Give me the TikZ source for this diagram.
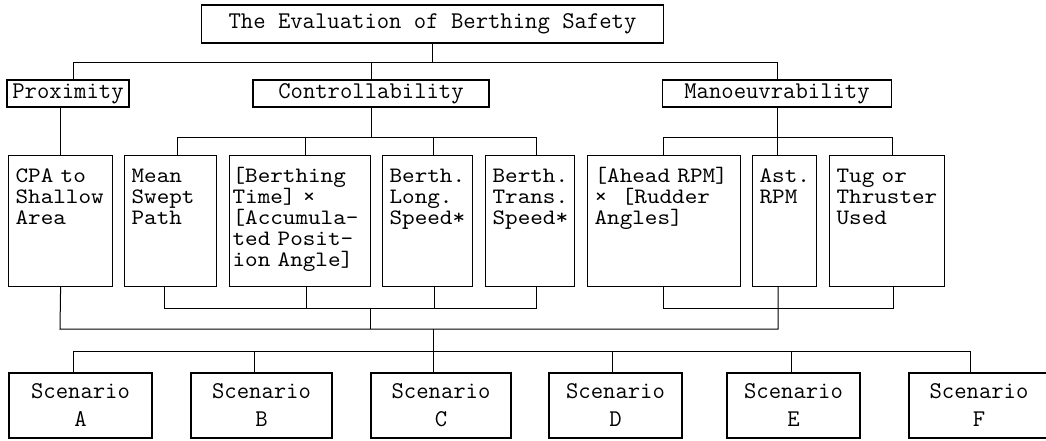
\documentclass[tikz,border=0pt]{standalone}
\usepackage{fontspec}
\usepackage{tikz}
\newfontfamily\critfont{lmmono10-regular.otf}[FakeStretch=1.09]

\begin{document}
\begin{tikzpicture}[
    x=1pt, y=-1pt,
    every node/.style={font=\ttfamily\fontsize{24}{20.5}\selectfont},
    head/.style={draw, line width=1.2pt, minimum height=27pt, inner sep=0pt},
    crit/.style={draw, line width=1.2pt, anchor=north west, align=left,
        text width=#1, text height=19pt, text depth=96pt,
        inner xsep=7pt, inner ysep=8pt,
        font=\critfont\fontsize{22}{21}\selectfont},
    scen/.style={draw, line width=1.2pt, minimum width=#1, minimum height=65pt,
        align=center, inner sep=0pt, font=\ttfamily\fontsize{24}{28}\selectfont},
    link/.style={line width=1pt},
]
    \useasboundingbox (0,0) rectangle (1046,440);

    %% the goal and its three aspects
    \node[head, minimum width=462pt, minimum height=38pt] (eval) at (432.5,24)
        {The Evaluation of Berthing Safety};
    \node[head, minimum width=122pt] (prox) at (68,93.5) {Proximity};
    \node[head, minimum width=236pt] (ctrl) at (371,93.5) {Controllability};
    \node[head, minimum width=229pt] (man) at (777,93.5) {Manoeuvrability};

    %% the criteria, text at the top left of each box
    \node[crit=90pt] (cpa) at (8,155) {CPA to\\Shallow\\Area};
    \node[crit=78pt] (mean) at (124,155) {Mean\\Swept\\Path};
    \node[crit=135pt, inner xsep=3pt] (btime) at (229,155)
        {[Berthing\\Time]~×\\{}[Accumula-\\ted Posit-\\ion Angle]};
    \node[crit=76pt] (blong) at (382,155) {Berth.\\Long.\\Speed*};
    \node[crit=75pt] (btrans) at (485,155) {Berth.\\Trans.\\Speed*};
    \node[crit=139pt] (ahead) at (587,155)
        {[Ahead RPM]\\×~~[Rudder\\Angles]};
    \node[crit=50pt] (ast) at (752,155) {Ast.\\RPM};
    \node[crit=101pt] (tug) at (829,155) {Tug or\\Thruster\\Used};

    %% the scenarios
    \node[scen=143pt] (sa) at (80.5,405.5) {Scenario\\A};
    \node[scen=141pt] (sb) at (261.5,405.5) {Scenario\\B};
    \node[scen=140pt] (sc) at (441,405.5) {Scenario\\C};
    \node[scen=133pt] (sd) at (615.5,405.5) {Scenario\\D};
    \node[scen=133pt] (se) at (793.5,405.5) {Scenario\\E};
    \node[scen=140pt] (sf) at (979,405.5) {Scenario\\F};

    %% goal to aspects
    \coordinate (pl) at (73,62);
    \draw[link] (eval.south) -- (eval.south |- pl);
    \draw[link] (prox.north -| pl) -- (pl) -| (man.north);
    \draw[link] (ctrl.north) -- (ctrl.north |- pl);

    %% aspects to criteria
    \draw[link] (prox.south -| cpa.north) -- (cpa.north);
    \coordinate (cl) at (177,137);
    \coordinate (cr) at (536,137);
    \draw[link] (ctrl.south) -- (ctrl.south |- cl);
    \draw[link] (mean.north -| cl) -- (cl) -- (cr) -- (btrans.north -| cr);
    \foreach \n/\x in {btime/305, blong/433}
        \draw[link] (\n.north -| \x,0) -- (\x,137);
    \coordinate (ml) at (663,137);
    \coordinate (mr) at (892,137);
    \draw[link] (ahead.north -| ml) -- (ml) -- (mr) -- (tug.north -| mr);
    \draw[link] (man.south) -- (ast.north -| man.south);

    %% criteria joined again below
    \coordinate (kl) at (164,308);
    \coordinate (kr) at (536,308);
    \draw[link] (mean.south -| kl) -- (kl) -- (kr) -- (btrans.south -| kr);
    \foreach \n/\x in {btime/306, blong/434}
        \draw[link] (\n.south -| \x,0) -- (\x,308);
    \coordinate (nl) at (663,308);
    \coordinate (nr) at (893,308);
    \draw[link] (ahead.south -| nl) -- (nl) -- (nr) -- (tug.south -| nr);
    \coordinate (al) at (60,329);
    \coordinate (ar) at (778,329);
    \draw[link] (cpa.south) -- (al) -- (ar) -- (ast.south -| ar);
    \draw[link] (370,308) -- (370,329);

    %% down to the scenarios
    \coordinate (sl) at (73,351);
    \coordinate (sr) at (970,351);
    \draw[link] (433,329) -- (433,351);
    \draw[link] (sa.north -| sl) -- (sl) -- (sr) -- (sf.north -| sr);
    \foreach \n/\x in {sb/254, sc/433, sd/612, se/791}
        \draw[link] (\n.north -| \x,0) -- (\x,351);
\end{tikzpicture}
\end{document}
